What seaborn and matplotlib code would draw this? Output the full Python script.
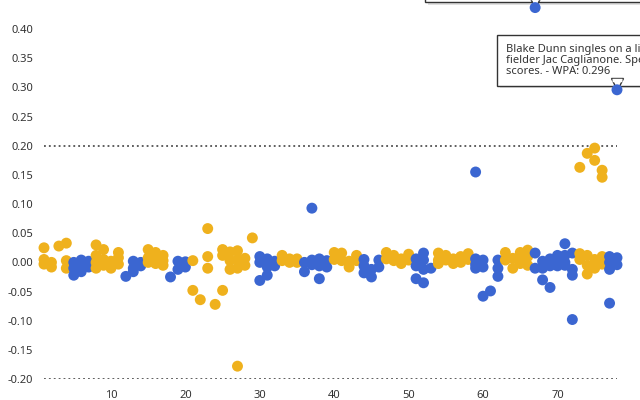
import numpy as np
import pandas as pd
import matplotlib
matplotlib.use("Agg")
import matplotlib.pyplot as plt
import matplotlib.patheffects as pe
import matplotlib.transforms as mtransforms
import seaborn as sns

# ---- data ----
gold_x = [1, 1, 1, 2, 2, 3, 4, 4, 4, 8, 8, 8, 8, 9, 9, 9, 10, 10, 11, 11, 11,
          15, 15, 15, 16, 16, 16, 17, 17, 17, 21, 21, 22, 23, 23, 23, 24,
          25, 25, 25, 26, 26, 26, 27, 27, 27, 27, 28, 28, 29, 33, 33, 34, 34,
          35, 35, 40, 40, 41, 41, 42, 42, 43, 43, 47, 47, 48, 48, 49, 49,
          50, 50, 54, 54, 54, 55, 55, 56, 56, 57, 57, 58, 58, 63, 63, 64, 64,
          65, 65, 65, 66, 66, 66, 73, 73, 73, 74, 74, 74, 74, 75, 75, 75, 75,
          76, 76, 76, 76]
gold_y = [0.025, 0.005, -0.003, 0.0, -0.008, 0.028, 0.033, 0.003, -0.01,
          0.03, 0.012, 0.0, -0.01, 0.022, 0.005, -0.005, 0.002, -0.01,
          0.017, 0.008, -0.003, 0.022, 0.008, 0.0, 0.017, 0.01, -0.002,
          0.012, 0.003, -0.005, 0.003, -0.048, -0.064, 0.058, 0.01, -0.01,
          -0.072, 0.022, 0.012, -0.048, 0.018, 0.003, -0.012, 0.02, 0.005,
          -0.01, -0.178, 0.007, -0.005, 0.042, 0.012, 0.003, 0.006, 0.0,
          0.006, 0.0, 0.017, 0.005, 0.016, 0.003, 0.002, -0.008, 0.012, 0.003,
          0.017, 0.006, 0.012, 0.003, 0.006, -0.002, 0.014, 0.004, 0.016,
          0.004, -0.002, 0.012, 0.004, 0.006, -0.002, 0.01, 0.0, 0.015, 0.005,
          0.017, 0.004, 0.007, -0.01, 0.017, 0.005, -0.002, 0.021, 0.01,
          -0.005, 0.163, 0.015, 0.005, 0.187, 0.012, -0.005, -0.02, 0.196,
          0.175, 0.005, -0.01, 0.158, 0.146, 0.01, -0.003]

blue_x = [5, 5, 5, 6, 6, 6, 7, 7, 12, 13, 13, 13, 14, 14, 18, 19, 19, 20, 20,
          30, 30, 30, 31, 31, 31, 32, 32, 36, 36, 37, 37, 37, 38, 38, 38, 39,
          39, 44, 44, 44, 45, 45, 46, 46, 51, 51, 51, 52, 52, 52, 52, 53,
          59, 59, 59, 59, 60, 60, 60, 61, 62, 62, 62, 67, 67, 67, 68, 68, 68,
          69, 69, 69, 70, 70, 70, 71, 71, 71, 71, 72, 72, 72, 72,
          77, 77, 77, 77, 78, 78, 78]
blue_y = [0.0, -0.01, -0.022, 0.004, -0.006, -0.016, 0.002, -0.008, -0.024,
          0.002, -0.01, -0.016, 0.0, -0.006, -0.025, 0.002, -0.012, 0.001,
          -0.008, 0.01, 0.0, -0.031, 0.006, -0.008, -0.022, 0.002, -0.006,
          -0.016, 0.0, 0.093, 0.004, -0.004, 0.006, -0.006, -0.028, 0.003,
          -0.008, 0.005, -0.006, -0.018, -0.025, -0.012, 0.004, -0.008,
          0.006, -0.006, -0.028, 0.016, 0.004, -0.012, -0.035, -0.01,
          0.155, 0.006, -0.004, -0.01, 0.004, -0.008, -0.058, -0.049,
          0.004, -0.01, -0.024, 0.437, 0.016, -0.01, 0.002, -0.01, -0.03,
          0.006, -0.006, -0.043, 0.012, 0.004, -0.006, 0.032, 0.012, 0.0,
          -0.005, 0.016, -0.012, -0.022, -0.098, 0.01, 0.0, -0.012, -0.07,
          0.296, 0.008, -0.004]

y_ticks = [-0.20, -0.15, -0.10, -0.05, 0.00, 0.05, 0.10, 0.15, 0.20, 0.25,
           0.30, 0.35, 0.40]
x_ticks = [10, 20, 30, 40, 50, 60, 70]
ref_lines = [0.2, -0.2]

tip_x = [67, 78]
tip_y = [0.437, 0.296]
tip_text = ["Bobby Witt Jr. doubles on a line drive to left\nfielder. Two runners score.\n - WPA: 0.437",
            "Blake Dunn singles on a line drive to right\n"
            "fielder Jac Caglianone. Spencer Steer\n"
            "scores. - WPA: 0.296"]
tip_offset = [(-101, 14), (-111, 13)]

df = pd.concat([
    pd.DataFrame({"play": gold_x, "wpa": gold_y, "team": "gold"}),
    pd.DataFrame({"play": blue_x, "wpa": blue_y, "team": "blue"}),
]).sort_values("play", kind="stable").reset_index(drop=True)

palette = {"gold": "#efb11d", "blue": "#3b66d1"}

sns.set_style("white")
plt.rcParams["font.family"] = ["Noto Sans", "DejaVu Sans"]

fig = plt.figure(figsize=(6.4, 4.0), dpi=100)
ax = fig.add_axes([44 / 640, 21 / 400, 573 / 640, 379 / 400])

sns.scatterplot(data=df, x="play", y="wpa", hue="team", palette=palette,
                s=62, linewidth=0, alpha=1, legend=False, ax=ax, zorder=7)
for c in ax.collections:
    c.set_clip_on(False)
    c.set_zorder(7)

for yv in ref_lines:
    ax.axhline(yv, color="#333333", linestyle=(0, (1.2, 2.0)), lw=1.1, zorder=0)

ax.set_xlim(1, 78)
ax.set_ylim(-0.2, 0.45)
ax.set_yticks(y_ticks)
ax.set_yticklabels([f"{v:.2f}" for v in y_ticks])
ax.set_xticks(x_ticks)
ax.set_xticklabels([str(v) for v in x_ticks])
ax.tick_params(axis="both", colors="#444444", labelsize=8, length=5, width=1,
               direction="out", pad=3, labelcolor="#333333")
ax.set_xlabel("")
ax.set_ylabel("")
for s in ax.spines.values():
    s.set_visible(False)

shadow = [pe.SimplePatchShadow(offset=(2, -2), shadow_rgbFace="#000000", alpha=0.12),
          pe.Normal()]
ptr_tr = mtransforms.offset_copy(ax.transData, fig=fig, x=0, y=6, units="dots")
for px, py, txt, off in zip(tip_x, tip_y, tip_text, tip_offset):
    ann = ax.annotate(txt, xy=(px, py), xytext=off, textcoords="offset pixels",
                      ha="left", va="bottom", fontsize=8, color="#333333",
                      linespacing=1.0, annotation_clip=False, zorder=5,
                      bbox=dict(boxstyle="square,pad=0.8", fc="white",
                                ec="#333333", lw=1))
    ann.get_bbox_patch().set_path_effects(shadow)
    ax.plot([px], [py], marker="v", ms=8, mfc="white", mec="#333333", mew=1,
            transform=ptr_tr, clip_on=False, zorder=6)
    ax.plot([px], [py], marker="_", ms=6.5, mec="white", mew=2.5,
            transform=mtransforms.offset_copy(ax.transData, fig=fig, x=0, y=9.5, units="dots"),
            clip_on=False, zorder=6)

fig.savefig("out.png", dpi=100)
